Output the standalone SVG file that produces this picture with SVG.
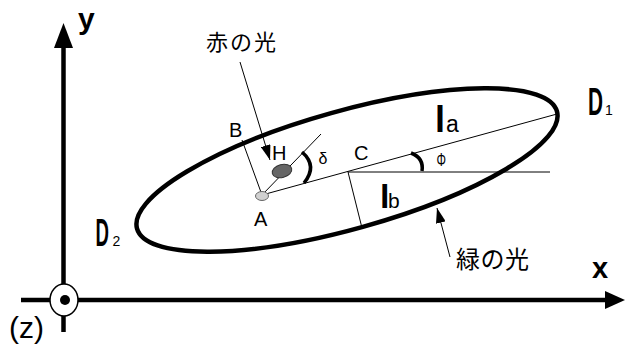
<svg xmlns="http://www.w3.org/2000/svg" width="625" height="345" viewBox="0 0 625 345">
<style>
text{font-family:"Liberation Sans",Arial,sans-serif;fill:#000}
.jp{font-family:"Noto Sans CJK JP","Noto Sans CJK SC",sans-serif}
.thin{stroke:#000;stroke-width:1;fill:none}
.axis{stroke:#000;stroke-width:4.5;fill:none}
.arc{stroke:#000;stroke-width:3.5;fill:none}
</style>
<defs>
<marker id="ah" markerWidth="16" markerHeight="10" refX="15" refY="5" orient="auto" markerUnits="userSpaceOnUse">
<path d="M0,0 L15,5 L0,10 z" fill="#000"/>
</marker>
</defs>
<rect width="625" height="345" fill="#fff"/>

<g id="axes">
<line class="axis" x1="63.5" y1="332" x2="63.5" y2="44"/>
<polygon points="54,48 73,48 63.5,23" fill="#000"/>
<line class="axis" x1="21" y1="300" x2="608" y2="300"/>
<polygon points="605,291 625,300 605,309" fill="#000"/>
<text x="78" y="28.5" font-size="30" font-weight="bold">y</text>
<text x="592" y="278" font-size="29" font-weight="bold">x</text>
</g>

<g id="origin">
<ellipse cx="64" cy="300" rx="14" ry="16" fill="#fff" stroke="#000" stroke-width="1.5"/>
<circle cx="65" cy="300" r="5" fill="#000"/>
<text x="9" y="338" font-size="30">(z)</text>
</g>

<g id="ellipse">
<ellipse cx="347" cy="170" rx="218" ry="59" transform="rotate(-15.6 347 170)" fill="none" stroke="#000" stroke-width="4.5"/>
</g>

<g id="connectors">
<line class="thin" x1="262" y1="195" x2="557" y2="114"/>
<line class="thin" x1="262" y1="195" x2="242" y2="140"/>
<line class="thin" x1="262" y1="195" x2="321" y2="134"/>
<line class="thin" x1="348" y1="172" x2="550" y2="172"/>
<line class="thin" x1="348" y1="172" x2="362" y2="228"/>
<path class="arc" d="M302,152 Q318,166 304,183"/>
<path class="arc" d="M411,153 Q424,158 422,171"/>
<line class="thin" x1="240" y1="62" x2="270" y2="160" marker-end="url(#ah)"/>
<line class="thin" x1="450" y1="257" x2="437" y2="208" marker-end="url(#ah)"/>
</g>

<g id="pointA">
<ellipse cx="262" cy="196" rx="6.5" ry="4.5" fill="#d0d0d0" stroke="#666" stroke-width="1"/>
<text x="254" y="226" font-size="20">A</text>
</g>

<g id="pointH">
<ellipse cx="282" cy="171" rx="10" ry="6.5" transform="rotate(-15 282 171)" fill="#666" stroke="#333" stroke-width="1"/>
<text x="272" y="160" font-size="20">H</text>
</g>

<g id="labels">
<text x="229" y="137" font-size="20">B</text>
<text x="354" y="159.5" font-size="20">C</text>
<text x="318.5" y="164" font-size="16">δ</text>
<text x="436.5" y="166" font-size="18" textLength="9.5" lengthAdjust="spacingAndGlyphs">Φ</text>
<text x="435" y="132"><tspan font-weight="bold" font-size="36">l</tspan><tspan font-size="23" dx="1">a</tspan></text>
<text x="380" y="208"><tspan font-weight="bold" font-size="34">l</tspan><tspan font-size="21" dx="-1.5">b</tspan></text>
</g>

<g id="D1">
<text transform="translate(588,115) scale(0.547,1)" font-weight="bold" font-size="38">D</text>
<text x="605" y="115" font-size="14">1</text>
</g>
<g id="D2">
<text transform="translate(95.5,246) scale(0.478,1)" font-weight="bold" font-size="39">D</text>
<text x="112.5" y="246" font-size="14">2</text>
</g>

<g id="redLight">
<text class="jp" x="206" y="50" font-size="22" letter-spacing="2">赤の光</text>
</g>
<g id="greenLight">
<text class="jp" x="456" y="268" font-size="24" letter-spacing="0.5">緑の光</text>
</g>
</svg>
